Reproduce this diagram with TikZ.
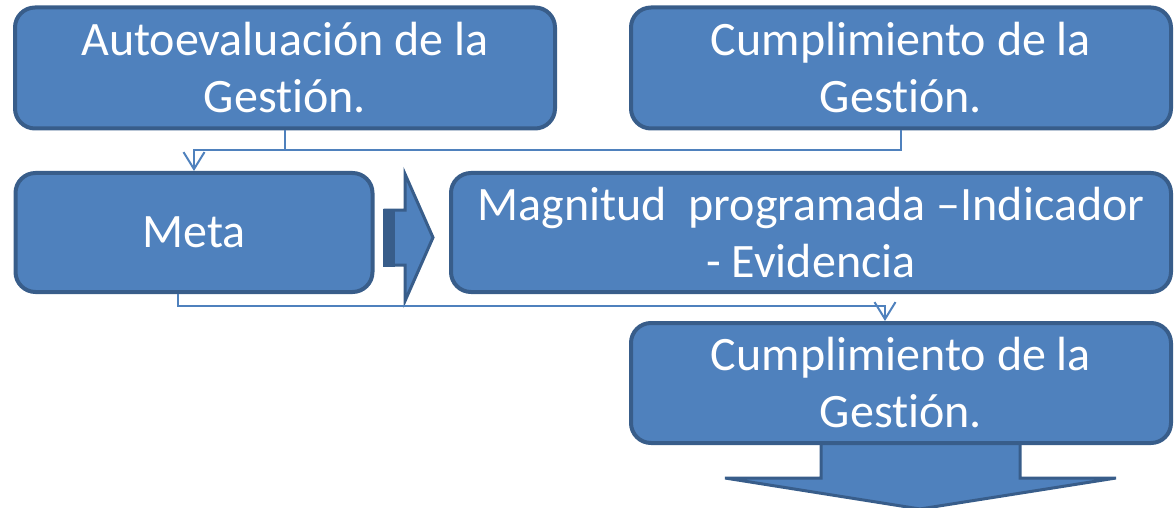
\documentclass[tikz,border=0pt]{standalone}
\usepackage{fontspec}
\setmainfont{Carlito}[Ligatures=NoCommon]
\usetikzlibrary{positioning,arrows.meta,calc}

\definecolor{boxfill}{HTML}{4F81BD}
\definecolor{boxline}{HTML}{385D8A}

\begin{document}
\begin{tikzpicture}[
    x=1pt, y=-1pt,
    gbox/.style={draw=boxline, fill=boxfill, line width=4pt, rounded corners=20pt,
        text=white, align=center, inner sep=0pt,
        font=\fontsize{48}{57}\selectfont},
    wide/.style={gbox, minimum width=540pt, minimum height=121pt},
    link/.style={boxfill, line width=2pt},
    tip/.style={-{Straight Barb[length=17pt, width=21pt, line width=2pt]}},
    block/.style={draw=boxline, fill=boxfill, line width=3pt, line join=miter}
]
\useasboundingbox (0,0) rectangle (1176,508);

% Big arrow under the last box (drawn first, the box covers its top)
\draw[block] (821,440) -- (1020,440) -- (1020,478) -- (1116,478) -- (920,509)
    -- (725,478) -- (821,478) -- cycle;

% Boxes
\node[wide] (auto) at (285,68) {Autoevaluación de la\\Gestión.};
\node[wide] (cumpl) at (901,68) {Cumplimiento de la\\Gestión.};
\node[gbox, minimum width=357pt, minimum height=119pt] (meta) at (194,232.5) {Meta};
\node[gbox, minimum width=720pt, minimum height=119pt] (magn) at (811,232.5)
    {Magnitud\ \ programada –Indicador\\- Evidencia};
\node[wide, minimum height=120pt] (fin) at (901,383) {Cumplimiento de la\\Gestión.};

% Block arrow between Meta and the indicator box
\draw[block] (385,210) -- (405,210) -- (405,174) -- (433,237.5) -- (405,301)
    -- (405,265) -- (385,265) -- cycle;
\fill[boxline] (383,208.5) rectangle (395,266.5);

% Connectors
\coordinate (j1) at (meta.north |- 0,150);
\draw[link] (auto.south) -- (auto.south |- j1);
\draw[link, tip] (cumpl.south) |- (j1) -- (meta.north);
\coordinate (m1) at ($(meta.south)+(-16,0)$);
\coordinate (f1) at ($(fin.north)+(-16,0)$);
\draw[link, tip] (m1) -- (m1 |- 0,306) -| (f1);

\end{tikzpicture}
\end{document}
